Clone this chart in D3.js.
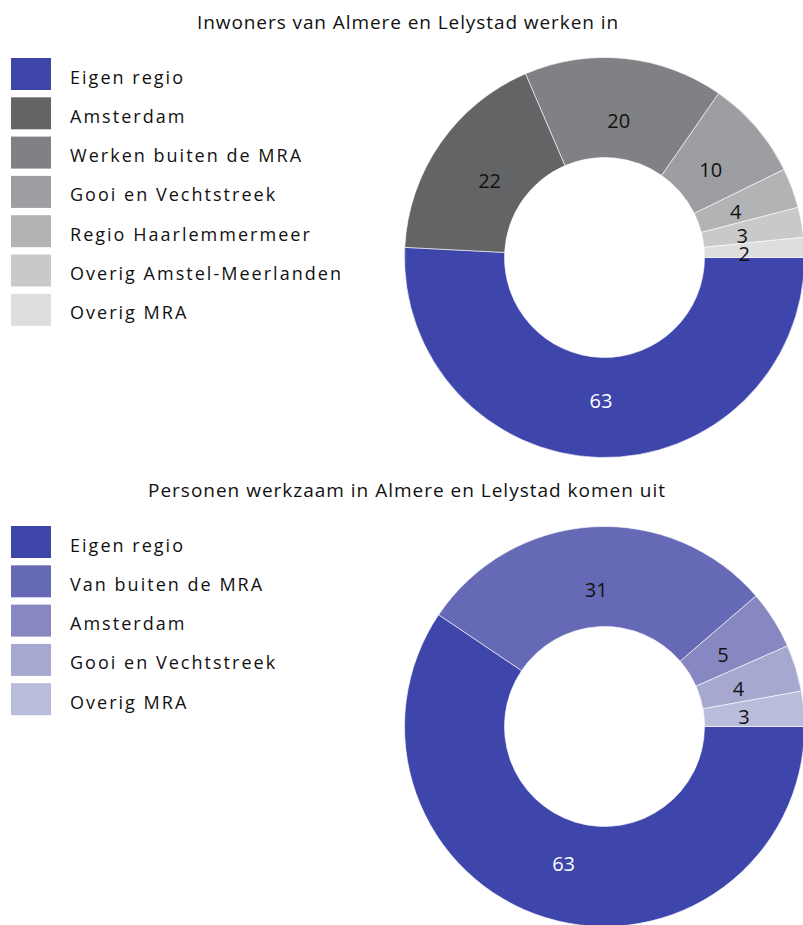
<!DOCTYPE html>
<html>
<head>
<meta charset="utf-8">
<script src="https://cdn.jsdelivr.net/npm/d3@7"></script>
<style>
  html, body { margin: 0; padding: 0; background: #fff; }
  svg text { font-family: "Open Sans", "Noto Sans", sans-serif; }
</style>
</head>
<body>
<svg id="chart" width="803" height="925"></svg>
<script>
// ---- Data ----
const topTitle = "Inwoners van Almere en Lelystad werken in";
const topCategories = ["Eigen regio", "Amsterdam", "Werken buiten de MRA", "Gooi en Vechtstreek", "Regio Haarlemmermeer", "Overig Amstel-Meerlanden", "Overig MRA"];
const topValues = [63, 22, 20, 10, 4, 3, 2];
const topColors = ["#3e45ab", "#636466", "#808184", "#9d9ea1", "#b1b3b5", "#c8c9cb", "#dddee0"];

const bottomTitle = "Personen werkzaam in Almere en Lelystad komen uit";
const bottomCategories = ["Eigen regio", "Van buiten de MRA", "Amsterdam", "Gooi en Vechtstreek", "Overig MRA"];
const bottomValues = [63, 31, 5, 4, 3];
const bottomColors = ["#3e45ab", "#6669b5", "#8788c2", "#a6a8cf", "#babcdb"];

const svg = d3.select("#chart");

// fit letter-spacing so a text reaches a given width
function fitSpacing(sel, target) {
  const node = sel.node();
  const L = node.getComputedTextLength();
  const n = node.textContent.length;
  return (target - L) / n;
}

function drawDonut(cfg) {
  const g = svg.append("g");
  const t = g.append("text")
    .attr("x", cfg.titleX).attr("y", cfg.titleY)
    .attr("text-anchor", "middle")
    .attr("font-size", 19)
    .attr("fill", "#111")
    .text(cfg.title);
  t.attr("letter-spacing", fitSpacing(t, cfg.titleWidth));

  // legend
  const leg = g.append("g").attr("transform", `translate(11,${cfg.legendY})`);
  const rows = leg.selectAll("g").data(cfg.categories).join("g")
    .attr("transform", (d, i) => `translate(0,${i * 39.3})`);
  rows.append("rect").attr("width", 40).attr("height", 32)
    .attr("fill", (d, i) => cfg.colors[i]);
  const lt = rows.append("text").attr("x", 59).attr("y", 25.5)
    .attr("font-size", 18).attr("fill", "#111")
    .text(d => d);
  const first = lt.filter((d, i) => i === 0);
  lt.attr("letter-spacing", fitSpacing(first, 115));

  const pie = d3.pie().sort(null).value(d => d)
    .startAngle(Math.PI / 2).endAngle(Math.PI / 2 + 2 * Math.PI);
  const arcs = pie(cfg.values);
  const arc = d3.arc().innerRadius(100).outerRadius(200);
  const labelArc = d3.arc().innerRadius(140).outerRadius(140);
  const dg = g.append("g").attr("transform", `translate(${cfg.cx},${cfg.cy})`);
  dg.selectAll("path").data(arcs).join("path")
    .attr("d", arc)
    .attr("fill", (d, i) => cfg.colors[i])
    .attr("stroke", "#fff").attr("stroke-width", 0.6);
  dg.selectAll("text").data(arcs).join("text")
    .attr("transform", d => { const c = labelArc.centroid(d); return `translate(${c[0]},${c[1] + 3})`; })
    .attr("text-anchor", "middle")
    .attr("dy", "0.36em")
    .attr("font-size", 20)
    .attr("fill", (d, i) => i === 0 ? "#fff" : "#111")
    .text(d => d.data);
}

drawDonut({ title: topTitle, titleX: 408, titleY: 29, titleWidth: 422, legendY: 58,
  categories: topCategories, values: topValues, colors: topColors, cx: 604.5, cy: 257.5 });
drawDonut({ title: bottomTitle, titleX: 407, titleY: 497, titleWidth: 518, legendY: 526,
  categories: bottomCategories, values: bottomValues, colors: bottomColors, cx: 604.5, cy: 726.5 });
</script>
</body>
</html>
